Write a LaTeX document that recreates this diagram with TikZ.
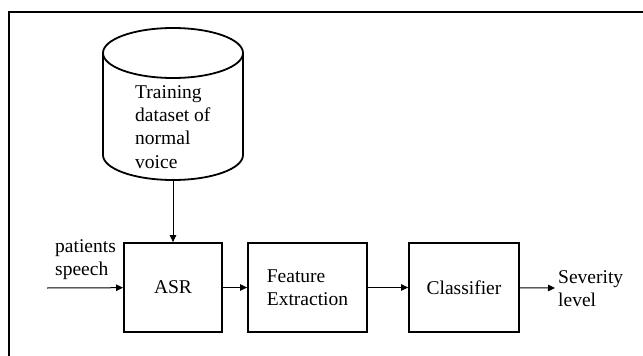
\documentclass[tikz,border=0pt]{standalone}
\usepackage{fontspec}
\setmainfont{Liberation Serif}
\usetikzlibrary{arrows.meta}
\begin{document}
\begin{tikzpicture}[x=1pt, y=-1pt, font=\rmfamily\fontsize{19.5}{23.4}\selectfont]
    \useasboundingbox (0,0) rectangle (643,356);
    % frame
    \draw[line width=2.4pt] (643,12) -- (9,12) -- (9,356);
    % database
    \draw[line width=1.8pt] (173,53) ellipse[x radius=70, y radius=25];
    \draw[line width=1.8pt] (103,53) -- (103,155) arc[start angle=180, end angle=0, x radius=70, y radius=25] -- (243,53);
    \coordinate (db) at (173,180);
    \begin{scope}
        \tikzstyle{every node}=[draw=black, line width=1.8pt, minimum height=89pt, text=black]
        \node[minimum width=98pt] (asr) at (173,287.5) {ASR};
        \node[minimum width=119pt, align=left] (feat) at (307.5,287.5) {Feature\\Extraction};
        \node[minimum width=110pt] (cls) at (464,287.5) {Classifier};
    \end{scope}
    \begin{scope}
        \tikzstyle{every node}=[inner sep=0pt, align=left, anchor=north west, text=black]
        \node (dbtext) at (135,85) {Training\\dataset of\\normal\\voice};
        \node (intext) at (55,239) {patients\\speech};
        \node (outtext) at (558,270) {Severity\\level};
    \end{scope}
    \coordinate (in) at (47,288);
    \coordinate (out) at (555,288);
    \begin{scope}
        \tikzstyle{every edge}=[draw, line width=1pt, -{Triangle[length=7pt,width=6.5pt]}]
        \path
        (db) edge (asr.north)
        (in) edge (asr)
        (asr) edge (feat)
        (feat) edge (cls)
        (cls) edge (out)
        ;
    \end{scope}
\end{tikzpicture}
\end{document}
